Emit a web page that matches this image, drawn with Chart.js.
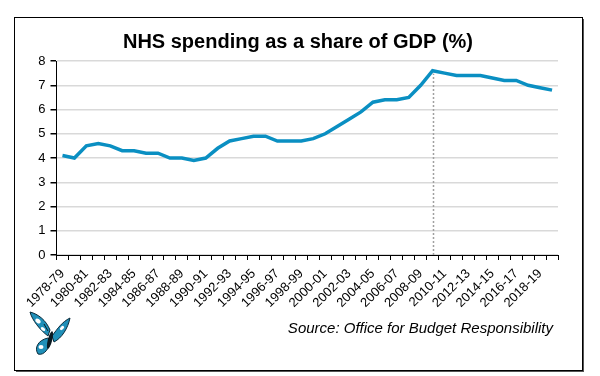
<!DOCTYPE html>
<html>
<head>
<meta charset="utf-8">
<script src="https://cdn.jsdelivr.net/npm/chart.js@4.4.0/dist/chart.umd.min.js"></script>
<style>
html,body{margin:0;padding:0;background:#fff;}
#wrap{position:relative;width:600px;height:376px;}
</style>
</head>
<body>
<div id="wrap"><canvas id="c" width="600" height="376"></canvas></div>
<script>
const categories = ["1978-79","1979-80","1980-81","1981-82","1982-83","1983-84","1984-85","1985-86","1986-87","1987-88","1988-89","1989-90","1990-91","1991-92","1992-93","1993-94","1994-95","1995-96","1996-97","1997-98","1998-99","1999-00","2000-01","2001-02","2002-03","2003-04","2004-05","2005-06","2006-07","2007-08","2008-09","2009-10","2010-11","2011-12","2012-13","2013-14","2014-15","2015-16","2016-17","2017-18","2018-19","2019-20"];
const nhsShare = [4.1,4.0,4.5,4.6,4.5,4.3,4.3,4.2,4.2,4.0,4.0,3.9,4.0,4.4,4.7,4.8,4.9,4.9,4.7,4.7,4.7,4.8,5.0,5.3,5.6,5.9,6.3,6.4,6.4,6.5,7.0,7.6,7.5,7.4,7.4,7.4,7.3,7.2,7.2,7.0,6.9,6.8];
const yTicks = [0,1,2,3,4,5,6,7,8];
const markerCategory = "2009-10";
const titleText = "NHS spending as a share of GDP (%)";
const sourceText = "Source: Office for Budget Responsibility";

const FONT = "'Liberation Sans', Arial, sans-serif";

function drawButterfly(ctx, x, y){
  ctx.save();
  ctx.translate(x, y);
  ctx.lineJoin = 'round';
  ctx.fillStyle = '#1f8fb8';
  ctx.strokeStyle = '#0a2a3a';
  ctx.lineWidth = 1;
  ctx.beginPath();
  ctx.moveTo(20,24);
  ctx.bezierCurveTo(12,18,4,8,2,0);
  ctx.bezierCurveTo(10,2,18,8,22,18);
  ctx.closePath();
  ctx.fill(); ctx.stroke();
  ctx.beginPath();
  ctx.moveTo(20,26);
  ctx.bezierCurveTo(10,28,6,36,10,42);
  ctx.bezierCurveTo(16,44,22,36,22,28);
  ctx.closePath();
  ctx.fill(); ctx.stroke();
  ctx.beginPath();
  ctx.moveTo(24,24);
  ctx.bezierCurveTo(30,16,34,10,42,6);
  ctx.bezierCurveTo(40,16,34,26,26,30);
  ctx.closePath();
  ctx.fill(); ctx.stroke();
  ctx.fillStyle = '#ffffff';
  ctx.beginPath(); ctx.ellipse(10,9,3,2,0.6,0,Math.PI*2); ctx.fill();
  ctx.beginPath(); ctx.ellipse(15,17,2.5,1.6,0.6,0,Math.PI*2); ctx.fill();
  ctx.beginPath(); ctx.ellipse(34,16,2.5,1.6,-0.8,0,Math.PI*2); ctx.fill();
  ctx.beginPath(); ctx.ellipse(13,35,2.5,2,0,0,Math.PI*2); ctx.fill();
  ctx.fillStyle = '#0a1a22';
  ctx.beginPath(); ctx.ellipse(22,28,2.2,9,0.25,0,Math.PI*2); ctx.fill();
  ctx.strokeStyle='#0a1a22';
  ctx.beginPath(); ctx.moveTo(20,19); ctx.lineTo(16,12); ctx.stroke();
  ctx.restore();
}

const decor = {
  id: 'decor',
  beforeDraw(chart){
    const ctx = chart.ctx;
    ctx.save();
    ctx.fillStyle = '#ffffff';
    ctx.fillRect(0,0,chart.width,chart.height);
    ctx.fillStyle = '#555';
    ctx.fillRect(16, 19, 568, 353);
    ctx.fillStyle = '#fff';
    ctx.fillRect(14.5, 17.5, 568, 353);
    ctx.strokeStyle = '#000';
    ctx.lineWidth = 1;
    ctx.strokeRect(14.5, 17.5, 568, 353);
    ctx.restore();
  },
  afterDatasetsDraw(chart){
    const ctx = chart.ctx;
    const xs = chart.scales.x, ys = chart.scales.y;
    const idx = categories.indexOf(markerCategory);
    const px = Math.round(xs.getPixelForValue(idx)) + 0.5;
    ctx.save();
    ctx.strokeStyle = '#a0a0a0';
    ctx.lineWidth = 1.5;
    ctx.setLineDash([2,2]);
    ctx.beginPath();
    ctx.moveTo(px, ys.getPixelForValue(0));
    ctx.lineTo(px, ys.getPixelForValue(nhsShare[idx]) + 3);
    ctx.stroke();
    ctx.restore();
  },
  afterDraw(chart){
    const ctx = chart.ctx;
    ctx.save();
    ctx.fillStyle = '#000';
    ctx.font = "bold 20px " + FONT;
    ctx.textAlign = 'center';
    ctx.textBaseline = 'middle';
    ctx.fillText(titleText, 298, 42);
    ctx.font = "italic 15px " + FONT;
    ctx.textAlign = 'right';
    ctx.fillText(sourceText, 553, 329);
    drawButterfly(ctx, 28, 312);
    ctx.restore();
  }
};

new Chart(document.getElementById('c'), {
  type: 'line',
  data: {
    labels: categories,
    datasets: [{
      data: nhsShare,
      borderColor: '#0a8fc2',
      borderWidth: 3.5,
      pointRadius: 0,
      tension: 0,
      fill: false
    }]
  },
  options: {
    responsive: false,
    animation: false,
    devicePixelRatio: 1,
    layout: { padding: { left: 14, right: 42, top: 61, bottom: 60 } },
    plugins: { legend: { display: false }, tooltip: { enabled: false }, title: { display: false } },
    scales: {
      x: {
        type: 'category',
        offset: true,
        afterFit(scale){ scale.height = 61; },
        grid: { display: true, drawOnChartArea: false, offset: true, tickLength: 5, color: '#000', tickColor: '#000' },
        border: { display: true, color: '#000', width: 1 },
        ticks: {
          autoSkip: false,
          maxRotation: 45, minRotation: 45,
          padding: 6,
          color: '#000',
          font: { family: FONT, size: 13 },
          callback(v, i){ return i % 2 === 0 ? categories[i] : ''; }
        }
      },
      y: {
        min: 0, max: 8,
        afterFit(scale){ scale.width = 42.5; },
        afterBuildTicks(scale){ scale.ticks = yTicks.map(v => ({ value: v })); },
        grid: { color: '#d9d9d9', lineWidth: 1.5, tickColor: '#000', tickLength: 6 },
        border: { display: true, color: '#000', width: 1 },
        ticks: { color: '#000', padding: 5, font: { family: FONT, size: 13 } }
      }
    }
  },
  plugins: [decor]
});
</script>
</body>
</html>
